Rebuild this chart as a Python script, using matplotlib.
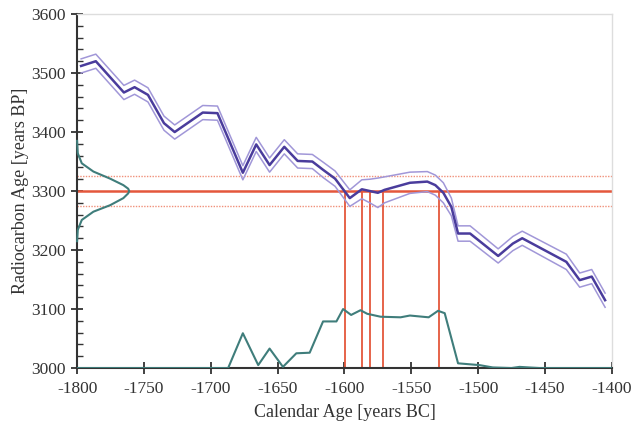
import numpy as np
from matplotlib import pyplot as plt
from matplotlib.ticker import MultipleLocator

# calibration curve
cal_years = [-1797, -1786, -1765, -1757, -1747, -1735, -1727, -1706, -1695, -1676,
             -1666, -1656, -1645, -1635, -1624, -1616, -1607, -1596, -1587, -1581,
             -1575, -1570, -1551, -1538, -1532, -1526, -1520, -1515, -1506, -1485,
             -1474, -1467, -1434, -1424, -1415, -1405]
c14_age = [3512, 3520, 3467, 3476, 3463, 3415, 3400, 3433, 3432, 3331,
           3379, 3344, 3375, 3351, 3350, 3336, 3321, 3288, 3303, 3300,
           3297, 3302, 3314, 3316, 3310, 3297, 3273, 3228, 3228, 3190,
           3211, 3220, 3180, 3149, 3155, 3115]
c14_sigma = [12, 12, 12, 12, 12, 12, 12, 12, 12, 12,
             12, 12, 12, 12, 12, 13, 13, 14, 16, 20,
             25, 22, 18, 17, 17, 17, 15, 13, 13, 12,
             12, 12, 13, 12, 12, 12]

# calibrated probability (drawn on the x axis, in y units above 3000)
prob_years = [-1800, -1687, -1676, -1664.5, -1656, -1646, -1636, -1626, -1616, -1606,
              -1601, -1595, -1588, -1583, -1573, -1558, -1551, -1537, -1530, -1525,
              -1515, -1499, -1489, -1475, -1469, -1462, -1454, -1400]
prob_height = [3000, 3000, 3059, 3005, 3033, 3002, 3025, 3026, 3079, 3079,
               3100, 3090, 3098, 3092, 3087, 3086, 3089, 3086, 3097, 3093,
               3008, 3005, 3001, 3000, 3002, 3001, 3000, 3000]

# measured radiocarbon age distribution (drawn on the y axis)
meas_age = [3385, 3364, 3347, 3333, 3321, 3310, 3304, 3300, 3296, 3288, 3276, 3265, 3251, 3234, 3215]
meas_width = [0, 0.5, 3.5, 12.2, 24.7, 34.6, 38.2, 39, 38.2, 34.6, 24.7, 12.2, 3.5, 0.5, 0]

MEAS = 3300
MEAS_ERR = 25
intercepts = [-1599.6, -1587.1, -1580.9, -1571, -1529]

cal_years = np.array(cal_years)
c14_age = np.array(c14_age)
c14_sigma = np.array(c14_sigma)

plt.rcParams['font.family'] = ['Liberation Serif', 'DejaVu Serif']
plt.rcParams['axes.unicode_minus'] = False

fig = plt.figure(figsize=(6.32, 4.25), dpi=100)
ax = fig.add_axes([0.122, 0.134, 0.846, 0.833])

purple = '#4a3c9c'
light_purple = '#a197d8'
green = '#3f7d7b'
red = '#e4573c'
light_red = '#f0907a'

ax.axhline(MEAS, color=red, lw=1.8, zorder=2)
ax.axhline(MEAS + MEAS_ERR, color=light_red, lw=1.0, ls=(0, (1, 1)), zorder=2)
ax.axhline(MEAS - MEAS_ERR, color=light_red, lw=1.0, ls=(0, (1, 1)), zorder=2)
ax.vlines(intercepts, 3000, MEAS, color=red, lw=1.3, zorder=2)

ax.plot(cal_years, c14_age + c14_sigma, color=light_purple, lw=1.1, zorder=3)
ax.plot(cal_years, c14_age - c14_sigma, color=light_purple, lw=1.1, zorder=3)
ax.plot(cal_years, c14_age, color=purple, lw=1.8, zorder=4)

ax.plot(prob_years, prob_height, color=green, lw=1.5, zorder=3)
ax.plot(-1800 + np.array(meas_width), meas_age, color=green, lw=1.5, zorder=3, clip_on=False)

ax.set_xlim(-1800, -1400)
ax.set_ylim(3000, 3600)
ax.xaxis.set_major_locator(MultipleLocator(50))
ax.yaxis.set_major_locator(MultipleLocator(100))
ax.yaxis.set_minor_locator(MultipleLocator(20))
ax.tick_params(axis='both', which='major', direction='inout', length=9, width=1.3,
               color='#333333', labelsize=12.5, labelcolor='#333333')
ax.tick_params(axis='y', which='minor', direction='in', length=4, width=1.0, color='#333333')
ax.tick_params(axis='x', pad=5)

for s in ['left', 'bottom']:
    ax.spines[s].set_color('#333333')
    ax.spines[s].set_linewidth(1.5)
for s in ['top', 'right']:
    ax.spines[s].set_color('#dddddd')
    ax.spines[s].set_linewidth(1.0)

ax.set_xlabel("Calendar Age [years BC]", fontsize=13, color='#333333', labelpad=5)
ax.set_ylabel("Radiocarbon Age [years BP]", fontsize=13, color='#333333', labelpad=2)

fig.savefig("out.png", dpi=100)
